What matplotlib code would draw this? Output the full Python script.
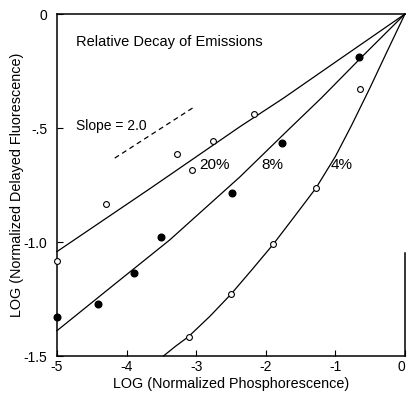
import matplotlib
matplotlib.use("Agg")
from matplotlib import pyplot as plt

plt.rcParams["font.family"] = ["Liberation Sans", "DejaVu Sans"]

# measured points (log normalized phosphorescence, log normalized delayed fluorescence)
open20_x = [-5.0, -4.30, -3.28, -3.06, -2.76, -2.17]
open20_y = [-1.083, -0.833, -0.614, -0.684, -0.556, -0.437]

filled8_x = [-5.0, -4.41, -3.90, -3.50, -2.49, -1.77, -0.66]
filled8_y = [-1.330, -1.272, -1.135, -0.977, -0.785, -0.564, -0.187]

open4_x = [-3.11, -2.50, -1.89, -1.28, -0.65]
open4_y = [-1.415, -1.229, -1.009, -0.764, -0.330]

# drawn curves
curve20_x = [-5.0, -3.66, -2.37, -1.75, -0.9, 0.0]
curve20_y = [-1.042, -0.765, -0.494, -0.370, -0.190, 0.0]

curve8_x = [-5.0, -4.2, -3.38, -2.37, -1.68, -1.20, -0.6, 0.0]
curve8_y = [-1.389, -1.192, -0.991, -0.714, -0.509, -0.368, -0.182, 0.0]

curve4_x = [-3.47, -3.30, -3.11, -2.80, -2.50, -2.20, -1.89, -1.60, -1.28, -1.00, -0.77, -0.50, -0.25, 0.0]
curve4_y = [-1.500, -1.458, -1.415, -1.325, -1.229, -1.122, -1.009, -0.893, -0.764, -0.625, -0.490, -0.322, -0.160, 0.0]

slope_x = [-4.17, -3.05]
slope_y = [-0.632, -0.412]

xticks = [-5, -4, -3, -2, -1, 0]
xtick_labels = ["-5", "-4", "-3", "-2", "-1", "0"]
yticks = [0, -0.5, -1.0, -1.5]
ytick_labels = ["0", "-.5", "-1.0", "-1.5"]

fig = plt.figure(figsize=(4.07, 4.0), dpi=100)
ax = fig.add_axes([0.140, 0.110, 0.855, 0.855])

for cx, cy in [(curve20_x, curve20_y), (curve8_x, curve8_y), (curve4_x, curve4_y)]:
    ax.plot(cx, cy, color="black", lw=0.9, clip_on=False)

ax.plot(slope_x, slope_y, color="black", lw=0.9, ls=(0, (4, 3)))

ax.plot(open20_x, open20_y, "o", ms=4.2, mfc="white", mec="black", mew=0.8, clip_on=False, zorder=3)
ax.plot(filled8_x, filled8_y, "o", ms=4.8, color="black", clip_on=False, zorder=3)
ax.plot(open4_x, open4_y, "o", ms=4.2, mfc="white", mec="black", mew=0.8, clip_on=False, zorder=3)

ax.text(-4.73, -0.124, "Relative Decay of Emissions", fontsize=10.5, va="center", ha="left")
ax.text(-4.73, -0.49, "Slope = 2.0", fontsize=10, va="center", ha="left")
ax.text(-2.96, -0.662, "20%", fontsize=11, va="center", ha="left")
ax.text(-2.07, -0.662, "8%", fontsize=11, va="center", ha="left")
ax.text(-1.07, -0.662, "4%", fontsize=11, va="center", ha="left")

ax.set_xlim(-5, 0)
ax.set_ylim(-1.5, 0)
ax.set_xticks(xticks)
ax.set_xticklabels(xtick_labels)
ax.set_yticks(yticks)
ax.set_yticklabels(ytick_labels)
ax.tick_params(direction="in", length=4, width=0.8, labelsize=10)
ax.tick_params(axis="x", pad=3)
ax.tick_params(axis="y", pad=7)
ax.get_xticklabels()[-1].set_ha("right")

for s in ax.spines.values():
    s.set_linewidth(1.1)
ax.spines["right"].set_bounds(-1.5, -1.05)

ax.set_xlabel("LOG (Normalized Phosphorescence)", fontsize=10.4, labelpad=2)
ax.set_ylabel("LOG (Normalized Delayed Fluorescence)", fontsize=10.4, labelpad=0)

fig.savefig("out.png", dpi=100)
